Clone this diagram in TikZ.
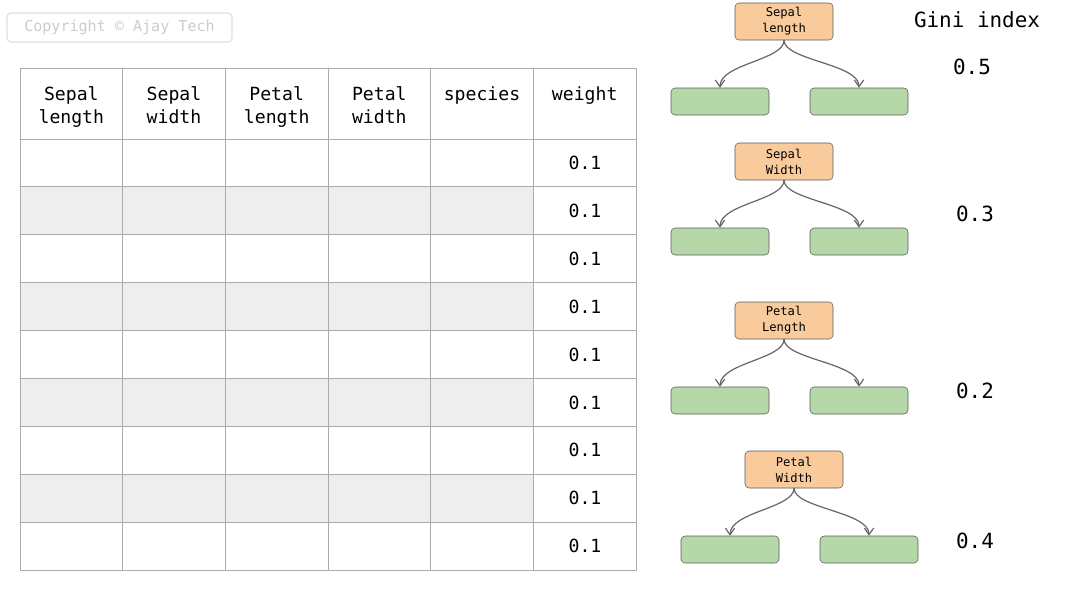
\documentclass[tikz,border=0pt]{standalone}
\usepackage{fontspec}
\setmainfont{DejaVu Sans Mono}
\usetikzlibrary{arrows.meta}
\definecolor{gridline}{HTML}{ABABAB}
\definecolor{rowgray}{HTML}{EEEEEE}
\definecolor{splitfill}{HTML}{F9CB9C}
\definecolor{leaffill}{HTML}{B6D7A8}
\definecolor{boxline}{HTML}{5A5A5A}
\definecolor{arrowline}{HTML}{666666}
\begin{document}
\begin{tikzpicture}[x=0.75pt, y=-0.75pt, line join=round, line cap=round, >={Straight Barb[length=5pt,width=7pt]},
	hdr/.style={anchor=north, align=center, inner sep=0pt, font=\fontsize{13.6}{17.25}\selectfont},
	val/.style={inner sep=0pt, font=\fontsize{13.6}{17.25}\selectfont},
	gini/.style={inner sep=0pt, font=\fontsize{15.7}{19}\selectfont},
	split/.style={draw=boxline, fill=splitfill, rounded corners=3pt, minimum width=73.5pt, minimum height=27.75pt, inner sep=0pt, align=center, font=\fontsize{9.1}{12}\selectfont},
	leaf/.style={draw=boxline, fill=leaffill, rounded corners=3pt, minimum width=73.5pt, minimum height=20.25pt, inner sep=0pt},
	branch/.style={->, draw=arrowline, line width=0.9pt}]
	\useasboundingbox (0,0) rectangle (1087,593);
	% watermark
	\node[draw=gray!25, line width=0.9pt, rounded corners=3pt, text=gray!40, minimum width=168.75pt, minimum height=21.75pt, inner sep=0pt, font=\fontsize{11.3}{13}\selectfont] (copy) at (119.5,27.5) {Copyright © Ajay Tech};
	% table
	\foreach \r in {2,4,6,8}
	\fill[rowgray] (20,{139+(\r-1)*47.89}) rectangle (534,{139+\r*47.89});
	\draw[gridline, line width=0.75pt] (20,68) rectangle (636,570);
	\foreach \i in {1,...,5}
	\draw[gridline, line width=0.75pt] ({20+\i*102.67},68) -- ({20+\i*102.67},570);
	\foreach \k in {0,...,8}
	\draw[gridline, line width=0.75pt] (20,{139+\k*47.89}) -- (636,{139+\k*47.89});
	\foreach \c/\t in {1/{Sepal\\length},2/{Sepal\\width},3/{Petal\\length},4/{Petal\\width},5/species,6/weight}
	\node[hdr] (h\c) at ({20+(\c-0.5)*102.67},86) {\t};
	\foreach \k in {1,...,9}
	\node[val] (w\k) at (585,{139+(\k-0.5)*47.89}) {0.1};
	% trees
	\foreach \n/\cx/\cy/\t in {1/784/21.5/{Sepal\\length},2/784/161.5/{Sepal\\Width},3/784/320.5/{Petal\\Length},4/794/469.5/{Petal\\Width}}{
		\node[split] (s\n) at (\cx,\cy) {\t};
		\node[leaf] (l\n) at (\cx-64,\cy+80) {};
		\node[leaf] (r\n) at (\cx+75,\cy+80) {};
		\draw[branch] (s\n.south) .. controls +(0,20) and +(0,-24) .. (l\n.north);
		\draw[branch] (s\n.south) .. controls +(0,20) and +(0,-24) .. (r\n.north);
	}
	% gini index
	\node[gini] (gtitle) at (977,20) {Gini index};
	\foreach \n/\x/\y/\g in {1/972/67/0.5,2/975/214/0.3,3/975/391/0.2,4/975/541/0.4}
	\node[gini] (g\n) at (\x,\y) {\g};
\end{tikzpicture}
\end{document}
